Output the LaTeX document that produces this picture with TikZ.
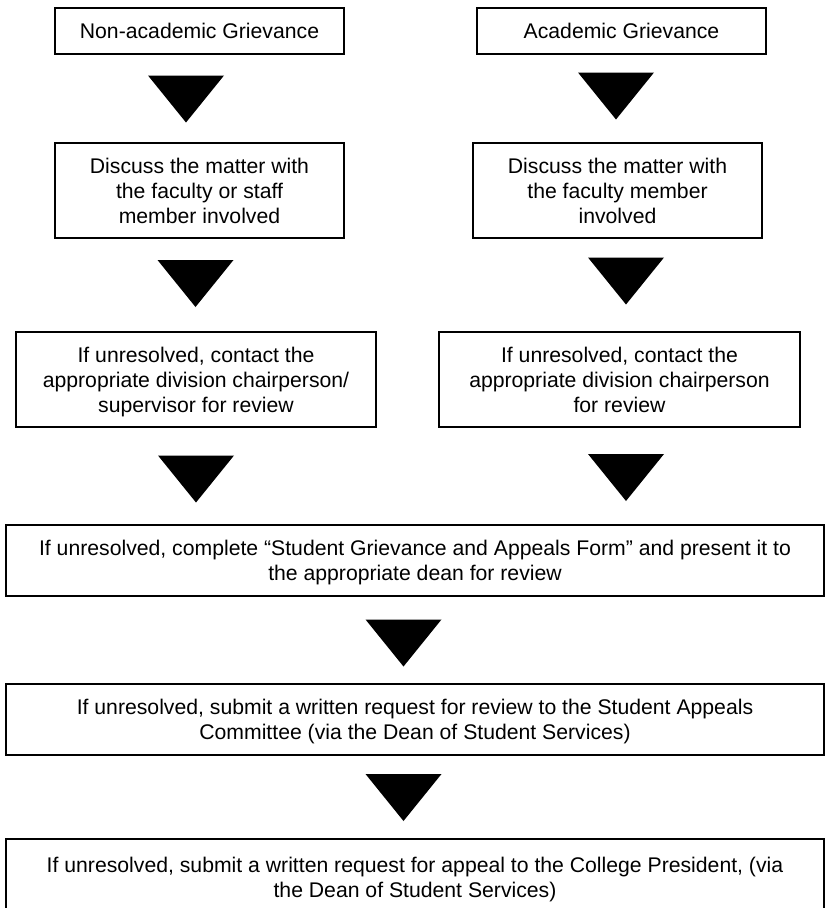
\documentclass[tikz,border=0pt]{standalone}
\usepackage{fontspec}
\setmainfont{Liberation Sans}

\begin{document}
\begin{tikzpicture}[x=0.75pt,y=-0.75pt]
        \useasboundingbox (0,0) rectangle (825,908);
        \begin{scope}[every node/.style={draw,line width=1pt,align=center,inner sep=0pt,text depth=0pt,
                    font=\fontsize{15.9}{18.75}\selectfont}]
            \node[minimum width=216.75pt,minimum height=34.5pt] (nonacad) at (199.5,31) {Non-academic Grievance};
            \node[minimum width=216.75pt,minimum height=34.5pt] (acad) at (621.5,31) {Academic Grievance};
            \node[minimum width=216.75pt,minimum height=71.25pt] (discussL) at (199.5,190.5) {Discuss the matter with\\the faculty or staff\\member involved};
            \node[minimum width=216.75pt,minimum height=71.25pt] (discussR) at (617.5,190.5) {Discuss the matter with\\the faculty member\\involved};
            \node[minimum width=270pt,minimum height=71.25pt] (chairL) at (196,379.5) {If unresolved, contact the\\appropriate division chairperson/\\supervisor for review};
            \node[minimum width=270.75pt,minimum height=71.25pt] (chairR) at (619.5,379.5) {If unresolved, contact the\\appropriate division chairperson\\for review};
            \node[minimum width=613.5pt,minimum height=53.25pt] (dean) at (415,560.5) {If unresolved, complete “Student Grievance and Appeals Form” and present it to\\the appropriate dean for review};
            \node[minimum width=613.5pt,minimum height=53.25pt] (committee) at (415,719.5) {If unresolved, submit a written request for review to the Student Appeals\\Committee (via the Dean of Student Services)};
            \node[minimum width=613.5pt,minimum height=57pt] (president) at (415,877) {If unresolved, submit a written request for appeal to the College President, (via\\the Dean of Student Services)};
        \end{scope}

        \begin{scope}[every node/.style={minimum width=57pt,minimum height=35.25pt,inner sep=0pt,
                    path picture={\fill (path picture bounding box.north west) -- (path picture bounding box.north east) -- (path picture bounding box.south) -- cycle;}}]
            \node (t1) at (186,99) {};
            \node (t2) at (195.5,283.5) {};
            \node (t3) at (196,479) {};
            \node (t4) at (616,96) {};
            \node (t5) at (626,281) {};
            \node (t6) at (626,477.5) {};
            \node (t7) at (403.5,643) {};
            \node (t8) at (403.5,797.5) {};
        \end{scope}
    \end{tikzpicture}
\end{document}
